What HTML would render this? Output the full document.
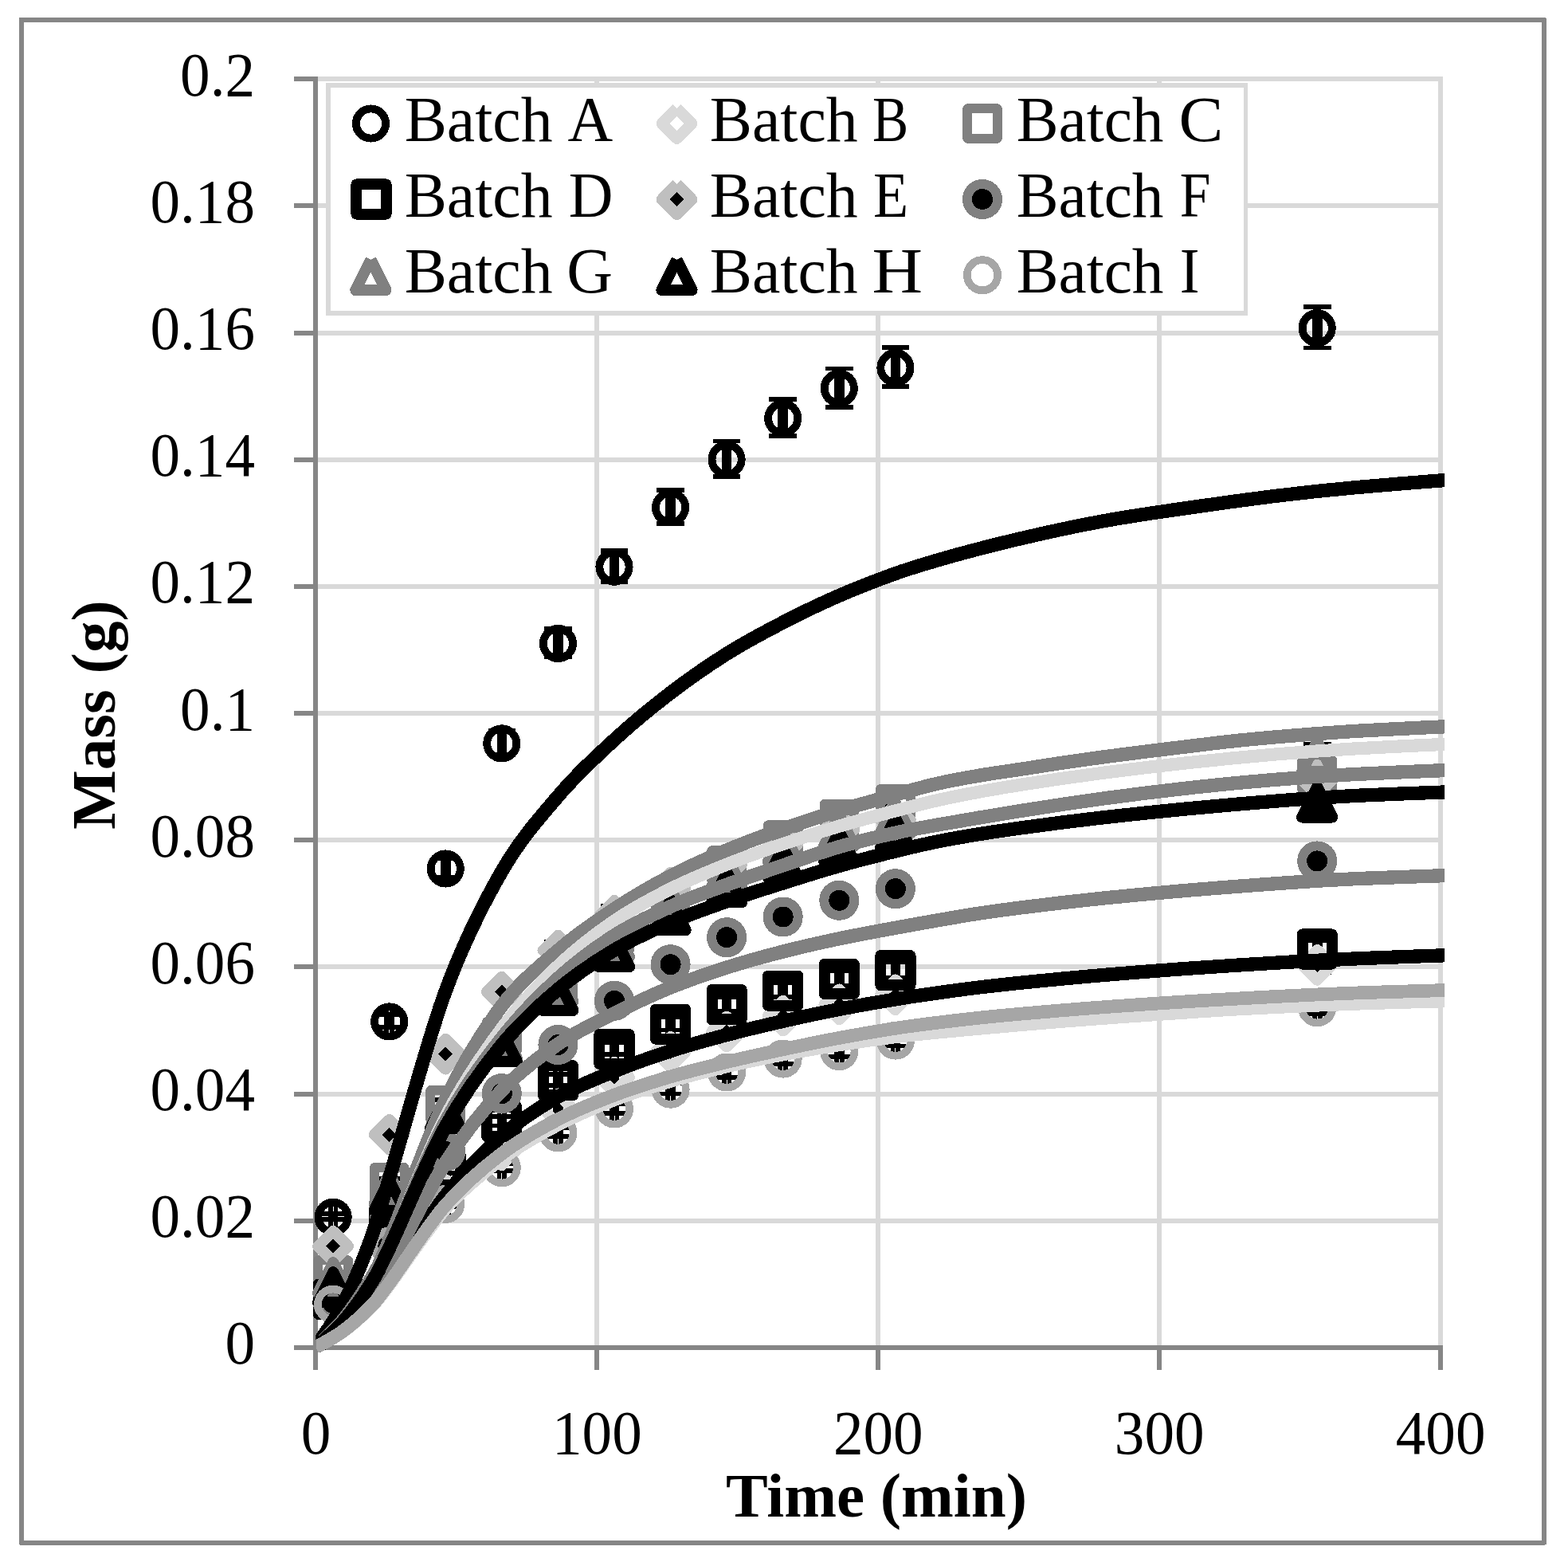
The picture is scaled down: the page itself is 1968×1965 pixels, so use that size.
<!DOCTYPE html>
<html lang="en"><head><meta charset="utf-8"><title>Mass vs Time</title>
<style>html,body{margin:0;padding:0;background:#fff;}body{width:1968px;height:1965px;overflow:hidden;}svg{display:block;}text{font-family:"Liberation Serif","DejaVu Serif",serif;fill:#000;}</style>
</head><body>
<svg width="1968" height="1965" viewBox="0 0 1968 1965" shape-rendering="crispEdges">
<rect x="0" y="0" width="1968" height="1965" fill="#fff"/>
<rect x="26.8" y="24.6" width="1911.2" height="1911.2" fill="none" stroke="#868686" stroke-width="6.0" stroke-linejoin="round"/>
<path d="M396.0 1531.6H1810.6M396.0 1372.5H1810.6M396.0 1213.3H1810.6M396.0 1054.2H1810.6M396.0 895.0H1810.6M396.0 735.8H1810.6M396.0 576.7H1810.6M396.0 417.5H1810.6M396.0 258.4H1810.6M396.0 99.2H1810.6M748.9 96.2V1690.8M1101.8 96.2V1690.8M1454.7 96.2V1690.8M1807.6 96.2V1690.8" fill="none" stroke="#d9d9d9" stroke-width="6.0"/>
<path d="M396.0 96.2V1693.8M393.0 1690.8H1810.6M369.0 1690.8H396.0M369.0 1531.6H396.0M369.0 1372.5H396.0M369.0 1213.3H396.0M369.0 1054.2H396.0M369.0 895.0H396.0M369.0 735.8H396.0M369.0 576.7H396.0M369.0 417.5H396.0M369.0 258.4H396.0M369.0 99.2H396.0M396.0 1690.8V1718.8M748.9 1690.8V1718.8M1101.8 1690.8V1718.8M1454.7 1690.8V1718.8M1807.6 1690.8V1718.8" fill="none" stroke="#868686" stroke-width="6.0"/>
<clipPath id="pc"><rect x="396.2" y="69.2" width="1416.9" height="1627.0"/></clipPath>
<g>
<path d="M418.1 1523.1V1529.7M400.8 1523.1H435.4M400.8 1529.7H435.4M414.7 1526.4H421.5M414.7 1509.1V1543.7M421.5 1509.1V1543.7" fill="none" stroke="#000" stroke-width="5.8"/>
<path d="M488.7 1272.9V1289.3M471.4 1272.9H506.0M471.4 1289.3H506.0M485.3 1281.1H492.1M485.3 1263.8V1298.4M492.1 1263.8V1298.4" fill="none" stroke="#000" stroke-width="5.8"/>
<path d="M559.2 1077.2V1101.2M541.9 1077.2H576.5M541.9 1101.2H576.5M555.8 1089.2H562.6M555.8 1071.9V1106.5M562.6 1071.9V1106.5" fill="none" stroke="#000" stroke-width="5.8"/>
<path d="M629.8 916.9V947.2M612.5 916.9H647.1M612.5 947.2H647.1M626.4 932.1H633.2M626.4 914.8V949.4M633.2 914.8V949.4" fill="none" stroke="#000" stroke-width="5.8"/>
<path d="M700.4 789.0V824.3M683.1 789.0H717.7M683.1 824.3H717.7M697.0 806.7H703.8M697.0 789.4V824.0M703.8 789.4V824.0" fill="none" stroke="#000" stroke-width="5.8"/>
<path d="M771.0 690.8V730.0M753.7 690.8H788.3M753.7 730.0H788.3M767.6 710.4H774.4M767.6 693.1V727.7M774.4 693.1V727.7" fill="none" stroke="#000" stroke-width="5.8"/>
<path d="M841.6 615.0V657.1M824.3 615.0H858.9M824.3 657.1H858.9M838.2 636.0H845.0M838.2 618.7V653.3M845.0 618.7V653.3" fill="none" stroke="#000" stroke-width="5.8"/>
<path d="M912.1 553.5V598.1M894.8 553.5H929.4M894.8 598.1H929.4M908.7 575.8H915.5M908.7 558.5V593.1M915.5 558.5V593.1" fill="none" stroke="#000" stroke-width="5.8"/>
<path d="M982.7 500.7V547.3M965.4 500.7H1000.0M965.4 547.3H1000.0M979.3 524.0H986.1M979.3 506.7V541.3M986.1 506.7V541.3" fill="none" stroke="#000" stroke-width="5.8"/>
<path d="M1053.3 462.4V510.6M1036.0 462.4H1070.6M1036.0 510.6H1070.6M1049.9 486.5H1056.7M1049.9 469.2V503.8M1056.7 469.2V503.8" fill="none" stroke="#000" stroke-width="5.8"/>
<path d="M1123.9 436.0V485.2M1106.6 436.0H1141.2M1106.6 485.2H1141.2M1120.5 460.6H1127.3M1120.5 443.3V477.9M1127.3 443.3V477.9" fill="none" stroke="#000" stroke-width="5.8"/>
<path d="M1653.2 385.2V436.4M1635.9 385.2H1670.5M1635.9 436.4H1670.5M1649.8 410.8H1656.6M1649.8 393.5V428.1M1656.6 393.5V428.1" fill="none" stroke="#000" stroke-width="5.8"/>
<path d="M418.1 1628.3V1630.7M400.8 1628.3H435.4M400.8 1630.7H435.4M414.7 1629.5H421.5M414.7 1612.2V1646.8M421.5 1612.2V1646.8" fill="none" stroke="#000" stroke-width="5.8"/>
<path d="M488.7 1559.3V1564.4M471.4 1559.3H506.0M471.4 1564.4H506.0M485.3 1561.9H492.1M485.3 1544.6V1579.2M492.1 1544.6V1579.2" fill="none" stroke="#000" stroke-width="5.8"/>
<path d="M559.2 1494.4V1502.0M541.9 1494.4H576.5M541.9 1502.0H576.5M555.8 1498.2H562.6M555.8 1480.9V1515.5M562.6 1480.9V1515.5" fill="none" stroke="#000" stroke-width="5.8"/>
<path d="M629.8 1437.6V1447.5M612.5 1437.6H647.1M612.5 1447.5H647.1M626.4 1442.5H633.2M626.4 1425.2V1459.8M633.2 1425.2V1459.8" fill="none" stroke="#000" stroke-width="5.8"/>
<path d="M700.4 1384.8V1396.8M683.1 1384.8H717.7M683.1 1396.8H717.7M697.0 1390.8H703.8M697.0 1373.5V1408.1M703.8 1373.5V1408.1" fill="none" stroke="#000" stroke-width="5.8"/>
<path d="M771.0 1344.2V1357.8M753.7 1344.2H788.3M753.7 1357.8H788.3M767.6 1351.0H774.4M767.6 1333.7V1368.3M774.4 1333.7V1368.3" fill="none" stroke="#000" stroke-width="5.8"/>
<path d="M841.6 1311.7V1326.6M824.3 1311.7H858.9M824.3 1326.6H858.9M838.2 1319.2H845.0M838.2 1301.9V1336.5M845.0 1301.9V1336.5" fill="none" stroke="#000" stroke-width="5.8"/>
<path d="M912.1 1285.8V1301.6M894.8 1285.8H929.4M894.8 1301.6H929.4M908.7 1293.7H915.5M908.7 1276.4V1311.0M915.5 1276.4V1311.0" fill="none" stroke="#000" stroke-width="5.8"/>
<path d="M982.7 1265.5V1282.1M965.4 1265.5H1000.0M965.4 1282.1H1000.0M979.3 1273.8H986.1M979.3 1256.5V1291.1M986.1 1256.5V1291.1" fill="none" stroke="#000" stroke-width="5.8"/>
<path d="M1053.3 1250.9V1268.1M1036.0 1250.9H1070.6M1036.0 1268.1H1070.6M1049.9 1259.5H1056.7M1049.9 1242.2V1276.8M1056.7 1242.2V1276.8" fill="none" stroke="#000" stroke-width="5.8"/>
<path d="M1123.9 1238.7V1256.4M1106.6 1238.7H1141.2M1106.6 1256.4H1141.2M1120.5 1247.5H1127.3M1120.5 1230.2V1264.8M1127.3 1230.2V1264.8" fill="none" stroke="#000" stroke-width="5.8"/>
<path d="M1653.2 1200.5V1219.7M1635.9 1200.5H1670.5M1635.9 1219.7H1670.5M1649.8 1210.1H1656.6M1649.8 1192.8V1227.4M1656.6 1192.8V1227.4" fill="none" stroke="#000" stroke-width="5.8"/>
<path d="M418.1 1597.5V1601.1M400.8 1597.5H435.4M400.8 1601.1H435.4M414.7 1599.3H421.5M414.7 1582.0V1616.6M421.5 1582.0V1616.6" fill="none" stroke="#000" stroke-width="5.8"/>
<path d="M488.7 1479.0V1487.2M471.4 1479.0H506.0M471.4 1487.2H506.0M485.3 1483.1H492.1M485.3 1465.8V1500.4M492.1 1465.8V1500.4" fill="none" stroke="#000" stroke-width="5.8"/>
<path d="M559.2 1379.9V1392.1M541.9 1379.9H576.5M541.9 1392.1H576.5M555.8 1386.0H562.6M555.8 1368.7V1403.3M562.6 1368.7V1403.3" fill="none" stroke="#000" stroke-width="5.8"/>
<path d="M629.8 1292.3V1307.9M612.5 1292.3H647.1M612.5 1307.9H647.1M626.4 1300.1H633.2M626.4 1282.8V1317.4M633.2 1282.8V1317.4" fill="none" stroke="#000" stroke-width="5.8"/>
<path d="M700.4 1219.2V1237.7M683.1 1219.2H717.7M683.1 1237.7H717.7M697.0 1228.4H703.8M697.0 1211.1V1245.7M703.8 1211.1V1245.7" fill="none" stroke="#000" stroke-width="5.8"/>
<path d="M771.0 1162.4V1183.1M753.7 1162.4H788.3M753.7 1183.1H788.3M767.6 1172.7H774.4M767.6 1155.4V1190.0M774.4 1155.4V1190.0" fill="none" stroke="#000" stroke-width="5.8"/>
<path d="M841.6 1113.7V1136.3M824.3 1113.7H858.9M824.3 1136.3H858.9M838.2 1125.0H845.0M838.2 1107.7V1142.3M845.0 1107.7V1142.3" fill="none" stroke="#000" stroke-width="5.8"/>
<path d="M912.1 1073.1V1097.3M894.8 1073.1H929.4M894.8 1097.3H929.4M908.7 1085.2H915.5M908.7 1067.9V1102.5M915.5 1067.9V1102.5" fill="none" stroke="#000" stroke-width="5.8"/>
<path d="M982.7 1040.6V1066.1M965.4 1040.6H1000.0M965.4 1066.1H1000.0M979.3 1053.4H986.1M979.3 1036.1V1070.7M986.1 1036.1V1070.7" fill="none" stroke="#000" stroke-width="5.8"/>
<path d="M1053.3 1013.8V1040.4M1036.0 1013.8H1070.6M1036.0 1040.4H1070.6M1049.9 1027.1H1056.7M1049.9 1009.8V1044.4M1056.7 1009.8V1044.4" fill="none" stroke="#000" stroke-width="5.8"/>
<path d="M1123.9 994.4V1021.6M1106.6 994.4H1141.2M1106.6 1021.6H1141.2M1120.5 1008.0H1127.3M1120.5 990.7V1025.3M1127.3 990.7V1025.3" fill="none" stroke="#000" stroke-width="5.8"/>
<path d="M1653.2 957.0V985.8M1635.9 957.0H1670.5M1635.9 985.8H1670.5M1649.8 971.4H1656.6M1649.8 954.1V988.7M1656.6 954.1V988.7" fill="none" stroke="#000" stroke-width="5.8"/>
<path d="M418.1 1628.3V1630.7M400.8 1628.3H435.4M400.8 1630.7H435.4M414.7 1629.5H421.5M414.7 1612.2V1646.8M421.5 1612.2V1646.8" fill="none" stroke="#000" stroke-width="5.8"/>
<path d="M488.7 1535.8V1541.8M471.4 1535.8H506.0M471.4 1541.8H506.0M485.3 1538.8H492.1M485.3 1521.5V1556.1M492.1 1521.5V1556.1" fill="none" stroke="#000" stroke-width="5.8"/>
<path d="M559.2 1462.7V1471.6M541.9 1462.7H576.5M541.9 1471.6H576.5M555.8 1467.2H562.6M555.8 1449.9V1484.5M562.6 1449.9V1484.5" fill="none" stroke="#000" stroke-width="5.8"/>
<path d="M629.8 1401.0V1412.4M612.5 1401.0H647.1M612.5 1412.4H647.1M626.4 1406.7H633.2M626.4 1389.4V1424.0M633.2 1389.4V1424.0" fill="none" stroke="#000" stroke-width="5.8"/>
<path d="M700.4 1348.3V1361.7M683.1 1348.3H717.7M683.1 1361.7H717.7M697.0 1355.0H703.8M697.0 1337.7V1372.3M703.8 1337.7V1372.3" fill="none" stroke="#000" stroke-width="5.8"/>
<path d="M771.0 1308.2V1323.2M753.7 1308.2H788.3M753.7 1323.2H788.3M767.6 1315.7H774.4M767.6 1298.4V1333.0M774.4 1298.4V1333.0" fill="none" stroke="#000" stroke-width="5.8"/>
<path d="M841.6 1276.2V1292.4M824.3 1276.2H858.9M824.3 1292.4H858.9M838.2 1284.3H845.0M838.2 1267.0V1301.6M845.0 1267.0V1301.6" fill="none" stroke="#000" stroke-width="5.8"/>
<path d="M912.1 1251.3V1268.6M894.8 1251.3H929.4M894.8 1268.6H929.4M908.7 1259.9H915.5M908.7 1242.6V1277.2M915.5 1242.6V1277.2" fill="none" stroke="#000" stroke-width="5.8"/>
<path d="M982.7 1233.3V1251.2M965.4 1233.3H1000.0M965.4 1251.2H1000.0M979.3 1242.3H986.1M979.3 1225.0V1259.6M986.1 1225.0V1259.6" fill="none" stroke="#000" stroke-width="5.8"/>
<path d="M1053.3 1218.4V1236.9M1036.0 1218.4H1070.6M1036.0 1236.9H1070.6M1049.9 1227.6H1056.7M1049.9 1210.3V1244.9M1056.7 1210.3V1244.9" fill="none" stroke="#000" stroke-width="5.8"/>
<path d="M1123.9 1207.4V1226.4M1106.6 1207.4H1141.2M1106.6 1226.4H1141.2M1120.5 1216.9H1127.3M1120.5 1199.6V1234.2M1127.3 1199.6V1234.2" fill="none" stroke="#000" stroke-width="5.8"/>
<path d="M1653.2 1180.2V1200.2M1635.9 1180.2H1670.5M1635.9 1200.2H1670.5M1649.8 1190.2H1656.6M1649.8 1172.9V1207.5M1656.6 1172.9V1207.5" fill="none" stroke="#000" stroke-width="5.8"/>
<path d="M418.1 1560.5V1565.6M400.8 1560.5H435.4M400.8 1565.6H435.4M414.7 1563.1H421.5M414.7 1545.8V1580.4M421.5 1545.8V1580.4" fill="none" stroke="#000" stroke-width="5.8"/>
<path d="M488.7 1417.8V1428.4M471.4 1417.8H506.0M471.4 1428.4H506.0M485.3 1423.1H492.1M485.3 1405.8V1440.4M492.1 1405.8V1440.4" fill="none" stroke="#000" stroke-width="5.8"/>
<path d="M559.2 1314.5V1329.2M541.9 1314.5H576.5M541.9 1329.2H576.5M555.8 1321.9H562.6M555.8 1304.6V1339.2M562.6 1304.6V1339.2" fill="none" stroke="#000" stroke-width="5.8"/>
<path d="M629.8 1234.9V1252.7M612.5 1234.9H647.1M612.5 1252.7H647.1M626.4 1243.8H633.2M626.4 1226.5V1261.1M633.2 1226.5V1261.1" fill="none" stroke="#000" stroke-width="5.8"/>
<path d="M700.4 1181.9V1201.8M683.1 1181.9H717.7M683.1 1201.8H717.7M697.0 1191.8H703.8M697.0 1174.5V1209.1M703.8 1174.5V1209.1" fill="none" stroke="#000" stroke-width="5.8"/>
<path d="M771.0 1137.2V1158.9M753.7 1137.2H788.3M753.7 1158.9H788.3M767.6 1148.1H774.4M767.6 1130.8V1165.4M774.4 1130.8V1165.4" fill="none" stroke="#000" stroke-width="5.8"/>
<path d="M841.6 1101.5V1124.6M824.3 1101.5H858.9M824.3 1124.6H858.9M838.2 1113.0H845.0M838.2 1095.7V1130.3M845.0 1095.7V1130.3" fill="none" stroke="#000" stroke-width="5.8"/>
<path d="M912.1 1071.5V1095.7M894.8 1071.5H929.4M894.8 1095.7H929.4M908.7 1083.6H915.5M908.7 1066.3V1100.9M915.5 1066.3V1100.9" fill="none" stroke="#000" stroke-width="5.8"/>
<path d="M982.7 1045.5V1070.8M965.4 1045.5H1000.0M965.4 1070.8H1000.0M979.3 1058.1H986.1M979.3 1040.8V1075.4M986.1 1040.8V1075.4" fill="none" stroke="#000" stroke-width="5.8"/>
<path d="M1053.3 1026.8V1052.8M1036.0 1026.8H1070.6M1036.0 1052.8H1070.6M1049.9 1039.8H1056.7M1049.9 1022.5V1057.1M1056.7 1022.5V1057.1" fill="none" stroke="#000" stroke-width="5.8"/>
<path d="M1123.9 1014.7V1041.1M1106.6 1014.7H1141.2M1106.6 1041.1H1141.2M1120.5 1027.9H1127.3M1120.5 1010.6V1045.2M1127.3 1010.6V1045.2" fill="none" stroke="#000" stroke-width="5.8"/>
<path d="M1653.2 963.5V992.0M1635.9 963.5H1670.5M1635.9 992.0H1670.5M1649.8 977.8H1656.6M1649.8 960.5V995.1M1656.6 960.5V995.1" fill="none" stroke="#000" stroke-width="5.8"/>
<path d="M418.1 1633.2V1635.4M400.8 1633.2H435.4M400.8 1635.4H435.4M414.7 1634.3H421.5M414.7 1617.0V1651.6M421.5 1617.0V1651.6" fill="none" stroke="#000" stroke-width="5.8"/>
<path d="M488.7 1527.7V1534.0M471.4 1527.7H506.0M471.4 1534.0H506.0M485.3 1530.8H492.1M485.3 1513.5V1548.1M492.1 1513.5V1548.1" fill="none" stroke="#000" stroke-width="5.8"/>
<path d="M559.2 1439.2V1449.0M541.9 1439.2H576.5M541.9 1449.0H576.5M555.8 1444.1H562.6M555.8 1426.8V1461.4M562.6 1426.8V1461.4" fill="none" stroke="#000" stroke-width="5.8"/>
<path d="M629.8 1364.9V1377.7M612.5 1364.9H647.1M612.5 1377.7H647.1M626.4 1371.3H633.2M626.4 1354.0V1388.6M633.2 1354.0V1388.6" fill="none" stroke="#000" stroke-width="5.8"/>
<path d="M700.4 1302.6V1317.8M683.1 1302.6H717.7M683.1 1317.8H717.7M697.0 1310.2H703.8M697.0 1292.9V1327.5M703.8 1292.9V1327.5" fill="none" stroke="#000" stroke-width="5.8"/>
<path d="M771.0 1246.3V1263.7M753.7 1246.3H788.3M753.7 1263.7H788.3M767.6 1255.0H774.4M767.6 1237.7V1272.3M774.4 1237.7V1272.3" fill="none" stroke="#000" stroke-width="5.8"/>
<path d="M841.6 1199.8V1219.0M824.3 1199.8H858.9M824.3 1219.0H858.9M838.2 1209.4H845.0M838.2 1192.1V1226.7M845.0 1192.1V1226.7" fill="none" stroke="#000" stroke-width="5.8"/>
<path d="M912.1 1165.1V1185.6M894.8 1165.1H929.4M894.8 1185.6H929.4M908.7 1175.4H915.5M908.7 1158.1V1192.7M915.5 1158.1V1192.7" fill="none" stroke="#000" stroke-width="5.8"/>
<path d="M982.7 1138.9V1160.5M965.4 1138.9H1000.0M965.4 1160.5H1000.0M979.3 1149.7H986.1M979.3 1132.4V1167.0M986.1 1132.4V1167.0" fill="none" stroke="#000" stroke-width="5.8"/>
<path d="M1053.3 1117.7V1140.2M1036.0 1117.7H1070.6M1036.0 1140.2H1070.6M1049.9 1129.0H1056.7M1049.9 1111.7V1146.3M1056.7 1111.7V1146.3" fill="none" stroke="#000" stroke-width="5.8"/>
<path d="M1123.9 1102.9V1125.9M1106.6 1102.9H1141.2M1106.6 1125.9H1141.2M1120.5 1114.4H1127.3M1120.5 1097.1V1131.7M1127.3 1097.1V1131.7" fill="none" stroke="#000" stroke-width="5.8"/>
<path d="M1653.2 1067.4V1091.8M1635.9 1067.4H1670.5M1635.9 1091.8H1670.5M1649.8 1079.6H1656.6M1649.8 1062.3V1096.9M1656.6 1062.3V1096.9" fill="none" stroke="#000" stroke-width="5.8"/>
<path d="M418.1 1600.7V1604.2M400.8 1600.7H435.4M400.8 1604.2H435.4M414.7 1602.5H421.5M414.7 1585.2V1619.8M421.5 1585.2V1619.8" fill="none" stroke="#000" stroke-width="5.8"/>
<path d="M488.7 1487.1V1495.0M471.4 1487.1H506.0M471.4 1495.0H506.0M485.3 1491.0H492.1M485.3 1473.8V1508.3M492.1 1473.8V1508.3" fill="none" stroke="#000" stroke-width="5.8"/>
<path d="M559.2 1389.7V1401.4M541.9 1389.7H576.5M541.9 1401.4H576.5M555.8 1395.6H562.6M555.8 1378.3V1412.9M562.6 1378.3V1412.9" fill="none" stroke="#000" stroke-width="5.8"/>
<path d="M629.8 1300.4V1315.7M612.5 1300.4H647.1M612.5 1315.7H647.1M626.4 1308.0H633.2M626.4 1290.7V1325.3M633.2 1290.7V1325.3" fill="none" stroke="#000" stroke-width="5.8"/>
<path d="M700.4 1227.3V1245.5M683.1 1227.3H717.7M683.1 1245.5H717.7M697.0 1236.4H703.8M697.0 1219.1V1253.7M703.8 1219.1V1253.7" fill="none" stroke="#000" stroke-width="5.8"/>
<path d="M771.0 1170.5V1190.9M753.7 1170.5H788.3M753.7 1190.9H788.3M767.6 1180.7H774.4M767.6 1163.4V1198.0M774.4 1163.4V1198.0" fill="none" stroke="#000" stroke-width="5.8"/>
<path d="M841.6 1121.8V1144.1M824.3 1121.8H858.9M824.3 1144.1H858.9M838.2 1132.9H845.0M838.2 1115.6V1150.2M845.0 1115.6V1150.2" fill="none" stroke="#000" stroke-width="5.8"/>
<path d="M912.1 1081.2V1105.1M894.8 1081.2H929.4M894.8 1105.1H929.4M908.7 1093.2H915.5M908.7 1075.9V1110.5M915.5 1075.9V1110.5" fill="none" stroke="#000" stroke-width="5.8"/>
<path d="M982.7 1048.7V1073.9M965.4 1048.7H1000.0M965.4 1073.9H1000.0M979.3 1061.3H986.1M979.3 1044.0V1078.6M986.1 1044.0V1078.6" fill="none" stroke="#000" stroke-width="5.8"/>
<path d="M1053.3 1028.5V1054.4M1036.0 1028.5H1070.6M1036.0 1054.4H1070.6M1049.9 1041.4H1056.7M1049.9 1024.1V1058.7M1056.7 1024.1V1058.7" fill="none" stroke="#000" stroke-width="5.8"/>
<path d="M1123.9 1012.2V1038.8M1106.6 1012.2H1141.2M1106.6 1038.8H1141.2M1120.5 1025.5H1127.3M1120.5 1008.2V1042.8M1127.3 1008.2V1042.8" fill="none" stroke="#000" stroke-width="5.8"/>
<path d="M1653.2 933.5V963.1M1635.9 933.5H1670.5M1635.9 963.1H1670.5M1649.8 948.3H1656.6M1649.8 931.0V965.6M1656.6 931.0V965.6" fill="none" stroke="#000" stroke-width="5.8"/>
<path d="M418.1 1612.9V1615.9M400.8 1612.9H435.4M400.8 1615.9H435.4M414.7 1614.4H421.5M414.7 1597.1V1631.7M421.5 1597.1V1631.7" fill="none" stroke="#000" stroke-width="5.8"/>
<path d="M488.7 1495.2V1502.8M471.4 1495.2H506.0M471.4 1502.8H506.0M485.3 1499.0H492.1M485.3 1481.7V1516.3M492.1 1481.7V1516.3" fill="none" stroke="#000" stroke-width="5.8"/>
<path d="M559.2 1389.7V1401.4M541.9 1389.7H576.5M541.9 1401.4H576.5M555.8 1395.6H562.6M555.8 1378.3V1412.9M562.6 1378.3V1412.9" fill="none" stroke="#000" stroke-width="5.8"/>
<path d="M629.8 1304.4V1319.6M612.5 1304.4H647.1M612.5 1319.6H647.1M626.4 1312.0H633.2M626.4 1294.7V1329.3M633.2 1294.7V1329.3" fill="none" stroke="#000" stroke-width="5.8"/>
<path d="M700.4 1239.2V1256.9M683.1 1239.2H717.7M683.1 1256.9H717.7M697.0 1248.0H703.8M697.0 1230.7V1265.3M703.8 1230.7V1265.3" fill="none" stroke="#000" stroke-width="5.8"/>
<path d="M771.0 1183.3V1203.2M753.7 1183.3H788.3M753.7 1203.2H788.3M767.6 1193.3H774.4M767.6 1176.0V1210.6M774.4 1176.0V1210.6" fill="none" stroke="#000" stroke-width="5.8"/>
<path d="M841.6 1136.4V1158.1M824.3 1136.4H858.9M824.3 1158.1H858.9M838.2 1147.3H845.0M838.2 1130.0V1164.6M845.0 1130.0V1164.6" fill="none" stroke="#000" stroke-width="5.8"/>
<path d="M912.1 1100.9V1124.0M894.8 1100.9H929.4M894.8 1124.0H929.4M908.7 1112.4H915.5M908.7 1095.1V1129.7M915.5 1095.1V1129.7" fill="none" stroke="#000" stroke-width="5.8"/>
<path d="M982.7 1069.0V1093.4M965.4 1069.0H1000.0M965.4 1093.4H1000.0M979.3 1081.2H986.1M979.3 1063.9V1098.5M986.1 1063.9V1098.5" fill="none" stroke="#000" stroke-width="5.8"/>
<path d="M1053.3 1048.7V1073.9M1036.0 1048.7H1070.6M1036.0 1073.9H1070.6M1049.9 1061.3H1056.7M1049.9 1044.0V1078.6M1056.7 1044.0V1078.6" fill="none" stroke="#000" stroke-width="5.8"/>
<path d="M1123.9 1031.7V1057.5M1106.6 1031.7H1141.2M1106.6 1057.5H1141.2M1120.5 1044.6H1127.3M1120.5 1027.3V1061.9M1127.3 1027.3V1061.9" fill="none" stroke="#000" stroke-width="5.8"/>
<path d="M1653.2 991.9V1019.3M1635.9 991.9H1670.5M1635.9 1019.3H1670.5M1649.8 1005.6H1656.6M1649.8 988.3V1022.9M1656.6 988.3V1022.9" fill="none" stroke="#000" stroke-width="5.8"/>
<path d="M418.1 1634.8V1637.0M400.8 1634.8H435.4M400.8 1637.0H435.4M414.7 1635.9H421.5M414.7 1618.6V1653.2M421.5 1618.6V1653.2" fill="none" stroke="#000" stroke-width="5.8"/>
<path d="M488.7 1560.1V1565.2M471.4 1560.1H506.0M471.4 1565.2H506.0M485.3 1562.7H492.1M485.3 1545.4V1580.0M492.1 1545.4V1580.0" fill="none" stroke="#000" stroke-width="5.8"/>
<path d="M559.2 1506.6V1513.7M541.9 1506.6H576.5M541.9 1513.7H576.5M555.8 1510.1H562.6M555.8 1492.8V1527.4M562.6 1492.8V1527.4" fill="none" stroke="#000" stroke-width="5.8"/>
<path d="M629.8 1460.0V1469.1M612.5 1460.0H647.1M612.5 1469.1H647.1M626.4 1464.5H633.2M626.4 1447.2V1481.8M633.2 1447.2V1481.8" fill="none" stroke="#000" stroke-width="5.8"/>
<path d="M700.4 1415.2V1426.0M683.1 1415.2H717.7M683.1 1426.0H717.7M697.0 1420.6H703.8M697.0 1403.3V1437.9M703.8 1403.3V1437.9" fill="none" stroke="#000" stroke-width="5.8"/>
<path d="M771.0 1384.7V1396.7M753.7 1384.7H788.3M753.7 1396.7H788.3M767.6 1390.7H774.4M767.6 1373.4V1408.0M774.4 1373.4V1408.0" fill="none" stroke="#000" stroke-width="5.8"/>
<path d="M841.6 1359.4V1372.4M824.3 1359.4H858.9M824.3 1372.4H858.9M838.2 1365.9H845.0M838.2 1348.6V1383.2M845.0 1348.6V1383.2" fill="none" stroke="#000" stroke-width="5.8"/>
<path d="M912.1 1337.8V1351.6M894.8 1337.8H929.4M894.8 1351.6H929.4M908.7 1344.7H915.5M908.7 1327.4V1362.0M915.5 1327.4V1362.0" fill="none" stroke="#000" stroke-width="5.8"/>
<path d="M982.7 1320.6V1335.1M965.4 1320.6H1000.0M965.4 1335.1H1000.0M979.3 1327.8H986.1M979.3 1310.5V1345.1M986.1 1310.5V1345.1" fill="none" stroke="#000" stroke-width="5.8"/>
<path d="M1053.3 1310.9V1325.8M1036.0 1310.9H1070.6M1036.0 1325.8H1070.6M1049.9 1318.4H1056.7M1049.9 1301.1V1335.7M1056.7 1301.1V1335.7" fill="none" stroke="#000" stroke-width="5.8"/>
<path d="M1123.9 1297.1V1312.5M1106.6 1297.1H1141.2M1106.6 1312.5H1141.2M1120.5 1304.8H1127.3M1120.5 1287.5V1322.1M1127.3 1287.5V1322.1" fill="none" stroke="#000" stroke-width="5.8"/>
<path d="M1653.2 1254.9V1272.0M1635.9 1254.9H1670.5M1635.9 1272.0H1670.5M1649.8 1263.5H1656.6M1649.8 1246.2V1280.8M1656.6 1246.2V1280.8" fill="none" stroke="#000" stroke-width="5.8"/>
<g>
<circle cx="418.1" cy="1527.2" r="18.60" fill="none" stroke="#000000" stroke-width="9.9"/>
<circle cx="488.7" cy="1281.9" r="18.60" fill="none" stroke="#000000" stroke-width="9.9"/>
<circle cx="559.2" cy="1090.0" r="18.60" fill="none" stroke="#000000" stroke-width="9.9"/>
<circle cx="629.8" cy="932.9" r="18.60" fill="none" stroke="#000000" stroke-width="9.9"/>
<circle cx="700.4" cy="807.5" r="18.60" fill="none" stroke="#000000" stroke-width="9.9"/>
<circle cx="771.0" cy="711.2" r="18.60" fill="none" stroke="#000000" stroke-width="9.9"/>
<circle cx="841.6" cy="636.8" r="18.60" fill="none" stroke="#000000" stroke-width="9.9"/>
<circle cx="912.1" cy="576.6" r="18.60" fill="none" stroke="#000000" stroke-width="9.9"/>
<circle cx="982.7" cy="524.8" r="18.60" fill="none" stroke="#000000" stroke-width="9.9"/>
<circle cx="1053.3" cy="487.3" r="18.60" fill="none" stroke="#000000" stroke-width="9.9"/>
<circle cx="1123.9" cy="461.4" r="18.60" fill="none" stroke="#000000" stroke-width="9.9"/>
<circle cx="1653.2" cy="411.6" r="18.60" fill="none" stroke="#000000" stroke-width="9.9"/>
</g>
<g>
<path d="M418.1 1611.4L437.0 1630.3L418.1 1649.2L399.2 1630.3L418.1 1611.4Z" fill="none" stroke="#d9d9d9" stroke-width="14.0" stroke-linejoin="round"/>
<path d="M488.7 1543.8L507.6 1562.7L488.7 1581.6L469.8 1562.7L488.7 1543.8Z" fill="none" stroke="#d9d9d9" stroke-width="14.0" stroke-linejoin="round"/>
<path d="M559.2 1480.1L578.1 1499.0L559.2 1517.9L540.3 1499.0L559.2 1480.1Z" fill="none" stroke="#d9d9d9" stroke-width="14.0" stroke-linejoin="round"/>
<path d="M629.8 1424.4L648.7 1443.3L629.8 1462.2L610.9 1443.3L629.8 1424.4Z" fill="none" stroke="#d9d9d9" stroke-width="14.0" stroke-linejoin="round"/>
<path d="M700.4 1372.7L719.3 1391.6L700.4 1410.5L681.5 1391.6L700.4 1372.7Z" fill="none" stroke="#d9d9d9" stroke-width="14.0" stroke-linejoin="round"/>
<path d="M771.0 1332.9L789.9 1351.8L771.0 1370.7L752.1 1351.8L771.0 1332.9Z" fill="none" stroke="#d9d9d9" stroke-width="14.0" stroke-linejoin="round"/>
<path d="M841.6 1301.1L860.5 1320.0L841.6 1338.9L822.7 1320.0L841.6 1301.1Z" fill="none" stroke="#d9d9d9" stroke-width="14.0" stroke-linejoin="round"/>
<path d="M912.1 1275.6L931.0 1294.5L912.1 1313.4L893.2 1294.5L912.1 1275.6Z" fill="none" stroke="#d9d9d9" stroke-width="14.0" stroke-linejoin="round"/>
<path d="M982.7 1255.7L1001.6 1274.6L982.7 1293.5L963.8 1274.6L982.7 1255.7Z" fill="none" stroke="#d9d9d9" stroke-width="14.0" stroke-linejoin="round"/>
<path d="M1053.3 1241.4L1072.2 1260.3L1053.3 1279.2L1034.4 1260.3L1053.3 1241.4Z" fill="none" stroke="#d9d9d9" stroke-width="14.0" stroke-linejoin="round"/>
<path d="M1123.9 1229.4L1142.8 1248.3L1123.9 1267.2L1105.0 1248.3L1123.9 1229.4Z" fill="none" stroke="#d9d9d9" stroke-width="14.0" stroke-linejoin="round"/>
<path d="M1653.2 1192.0L1672.1 1210.9L1653.2 1229.8L1634.3 1210.9L1653.2 1192.0Z" fill="none" stroke="#d9d9d9" stroke-width="14.0" stroke-linejoin="round"/>
</g>
<g>
<rect x="399.3" y="1581.3" width="37.6" height="37.6" fill="none" stroke="#808080" stroke-width="12.0" stroke-linejoin="round"/>
<rect x="469.9" y="1465.1" width="37.6" height="37.6" fill="none" stroke="#808080" stroke-width="12.0" stroke-linejoin="round"/>
<rect x="540.4" y="1368.0" width="37.6" height="37.6" fill="none" stroke="#808080" stroke-width="12.0" stroke-linejoin="round"/>
<rect x="611.0" y="1282.1" width="37.6" height="37.6" fill="none" stroke="#808080" stroke-width="12.0" stroke-linejoin="round"/>
<rect x="681.6" y="1210.4" width="37.6" height="37.6" fill="none" stroke="#808080" stroke-width="12.0" stroke-linejoin="round"/>
<rect x="752.2" y="1154.7" width="37.6" height="37.6" fill="none" stroke="#808080" stroke-width="12.0" stroke-linejoin="round"/>
<rect x="822.8" y="1107.0" width="37.6" height="37.6" fill="none" stroke="#808080" stroke-width="12.0" stroke-linejoin="round"/>
<rect x="893.3" y="1067.2" width="37.6" height="37.6" fill="none" stroke="#808080" stroke-width="12.0" stroke-linejoin="round"/>
<rect x="963.9" y="1035.4" width="37.6" height="37.6" fill="none" stroke="#808080" stroke-width="12.0" stroke-linejoin="round"/>
<rect x="1034.5" y="1009.1" width="37.6" height="37.6" fill="none" stroke="#808080" stroke-width="12.0" stroke-linejoin="round"/>
<rect x="1105.1" y="990.0" width="37.6" height="37.6" fill="none" stroke="#808080" stroke-width="12.0" stroke-linejoin="round"/>
<rect x="1634.4" y="953.4" width="37.6" height="37.6" fill="none" stroke="#808080" stroke-width="12.0" stroke-linejoin="round"/>
</g>
<g>
<rect x="399.5" y="1611.7" width="37.2" height="37.2" fill="none" stroke="#000000" stroke-width="14.0" stroke-linejoin="round"/>
<rect x="470.1" y="1521.0" width="37.2" height="37.2" fill="none" stroke="#000000" stroke-width="14.0" stroke-linejoin="round"/>
<rect x="540.6" y="1449.4" width="37.2" height="37.2" fill="none" stroke="#000000" stroke-width="14.0" stroke-linejoin="round"/>
<rect x="611.2" y="1388.9" width="37.2" height="37.2" fill="none" stroke="#000000" stroke-width="14.0" stroke-linejoin="round"/>
<rect x="681.8" y="1337.2" width="37.2" height="37.2" fill="none" stroke="#000000" stroke-width="14.0" stroke-linejoin="round"/>
<rect x="752.4" y="1297.9" width="37.2" height="37.2" fill="none" stroke="#000000" stroke-width="14.0" stroke-linejoin="round"/>
<rect x="823.0" y="1266.5" width="37.2" height="37.2" fill="none" stroke="#000000" stroke-width="14.0" stroke-linejoin="round"/>
<rect x="893.5" y="1242.1" width="37.2" height="37.2" fill="none" stroke="#000000" stroke-width="14.0" stroke-linejoin="round"/>
<rect x="964.1" y="1224.5" width="37.2" height="37.2" fill="none" stroke="#000000" stroke-width="14.0" stroke-linejoin="round"/>
<rect x="1034.7" y="1209.8" width="37.2" height="37.2" fill="none" stroke="#000000" stroke-width="14.0" stroke-linejoin="round"/>
<rect x="1105.3" y="1199.1" width="37.2" height="37.2" fill="none" stroke="#000000" stroke-width="14.0" stroke-linejoin="round"/>
<rect x="1634.6" y="1172.4" width="37.2" height="37.2" fill="none" stroke="#000000" stroke-width="14.0" stroke-linejoin="round"/>
</g>
<g>
<path d="M418.1 1545.0L437.0 1563.9L418.1 1582.8L399.2 1563.9L418.1 1545.0Z" fill="#000000" stroke="#bfbfbf" stroke-width="14.0" stroke-linejoin="round"/>
<path d="M488.7 1405.0L507.6 1423.9L488.7 1442.8L469.8 1423.9L488.7 1405.0Z" fill="#000000" stroke="#bfbfbf" stroke-width="14.0" stroke-linejoin="round"/>
<path d="M559.2 1303.8L578.1 1322.7L559.2 1341.6L540.3 1322.7L559.2 1303.8Z" fill="#000000" stroke="#bfbfbf" stroke-width="14.0" stroke-linejoin="round"/>
<path d="M629.8 1225.7L648.7 1244.6L629.8 1263.5L610.9 1244.6L629.8 1225.7Z" fill="#000000" stroke="#bfbfbf" stroke-width="14.0" stroke-linejoin="round"/>
<path d="M700.4 1173.7L719.3 1192.6L700.4 1211.5L681.5 1192.6L700.4 1173.7Z" fill="#000000" stroke="#bfbfbf" stroke-width="14.0" stroke-linejoin="round"/>
<path d="M771.0 1130.0L789.9 1148.9L771.0 1167.8L752.1 1148.9L771.0 1130.0Z" fill="#000000" stroke="#bfbfbf" stroke-width="14.0" stroke-linejoin="round"/>
<path d="M841.6 1094.9L860.5 1113.8L841.6 1132.7L822.7 1113.8L841.6 1094.9Z" fill="#000000" stroke="#bfbfbf" stroke-width="14.0" stroke-linejoin="round"/>
<path d="M912.1 1065.5L931.0 1084.4L912.1 1103.3L893.2 1084.4L912.1 1065.5Z" fill="#000000" stroke="#bfbfbf" stroke-width="14.0" stroke-linejoin="round"/>
<path d="M982.7 1040.0L1001.6 1058.9L982.7 1077.8L963.8 1058.9L982.7 1040.0Z" fill="#000000" stroke="#bfbfbf" stroke-width="14.0" stroke-linejoin="round"/>
<path d="M1053.3 1021.7L1072.2 1040.6L1053.3 1059.5L1034.4 1040.6L1053.3 1021.7Z" fill="#000000" stroke="#bfbfbf" stroke-width="14.0" stroke-linejoin="round"/>
<path d="M1123.9 1009.8L1142.8 1028.7L1123.9 1047.6L1105.0 1028.7L1123.9 1009.8Z" fill="#000000" stroke="#bfbfbf" stroke-width="14.0" stroke-linejoin="round"/>
<path d="M1653.2 959.7L1672.1 978.6L1653.2 997.5L1634.3 978.6L1653.2 959.7Z" fill="#000000" stroke="#bfbfbf" stroke-width="14.0" stroke-linejoin="round"/>
</g>
<g>
<circle cx="418.1" cy="1635.1" r="19.00" fill="#000000" stroke="#808080" stroke-width="12.0"/>
<circle cx="488.7" cy="1531.6" r="19.00" fill="#000000" stroke="#808080" stroke-width="12.0"/>
<circle cx="559.2" cy="1444.9" r="19.00" fill="#000000" stroke="#808080" stroke-width="12.0"/>
<circle cx="629.8" cy="1372.1" r="19.00" fill="#000000" stroke="#808080" stroke-width="12.0"/>
<circle cx="700.4" cy="1311.0" r="19.00" fill="#000000" stroke="#808080" stroke-width="12.0"/>
<circle cx="771.0" cy="1255.8" r="19.00" fill="#000000" stroke="#808080" stroke-width="12.0"/>
<circle cx="841.6" cy="1210.2" r="19.00" fill="#000000" stroke="#808080" stroke-width="12.0"/>
<circle cx="912.1" cy="1176.2" r="19.00" fill="#000000" stroke="#808080" stroke-width="12.0"/>
<circle cx="982.7" cy="1150.5" r="19.00" fill="#000000" stroke="#808080" stroke-width="12.0"/>
<circle cx="1053.3" cy="1129.8" r="19.00" fill="#000000" stroke="#808080" stroke-width="12.0"/>
<circle cx="1123.9" cy="1115.2" r="19.00" fill="#000000" stroke="#808080" stroke-width="12.0"/>
<circle cx="1653.2" cy="1080.4" r="19.00" fill="#000000" stroke="#808080" stroke-width="12.0"/>
</g>
<g>
<path d="M418.1 1584.2L437.2 1622.4L399.0 1622.4L418.1 1584.2Z" fill="none" stroke="#808080" stroke-width="14.0" stroke-linejoin="round"/>
<path d="M488.7 1472.8L507.8 1510.9L469.6 1510.9L488.7 1472.8Z" fill="none" stroke="#808080" stroke-width="14.0" stroke-linejoin="round"/>
<path d="M559.2 1377.3L578.3 1415.5L540.1 1415.5L559.2 1377.3Z" fill="none" stroke="#808080" stroke-width="14.0" stroke-linejoin="round"/>
<path d="M629.8 1289.7L648.9 1327.9L610.7 1327.9L629.8 1289.7Z" fill="none" stroke="#808080" stroke-width="14.0" stroke-linejoin="round"/>
<path d="M700.4 1218.1L719.5 1256.3L681.3 1256.3L700.4 1218.1Z" fill="none" stroke="#808080" stroke-width="14.0" stroke-linejoin="round"/>
<path d="M771.0 1162.4L790.1 1200.6L751.9 1200.6L771.0 1162.4Z" fill="none" stroke="#808080" stroke-width="14.0" stroke-linejoin="round"/>
<path d="M841.6 1114.6L860.7 1152.8L822.5 1152.8L841.6 1114.6Z" fill="none" stroke="#808080" stroke-width="14.0" stroke-linejoin="round"/>
<path d="M912.1 1074.9L931.2 1113.0L893.0 1113.0L912.1 1074.9Z" fill="none" stroke="#808080" stroke-width="14.0" stroke-linejoin="round"/>
<path d="M982.7 1043.0L1001.8 1081.2L963.6 1081.2L982.7 1043.0Z" fill="none" stroke="#808080" stroke-width="14.0" stroke-linejoin="round"/>
<path d="M1053.3 1023.1L1072.4 1061.3L1034.2 1061.3L1053.3 1023.1Z" fill="none" stroke="#808080" stroke-width="14.0" stroke-linejoin="round"/>
<path d="M1123.9 1007.2L1143.0 1045.4L1104.8 1045.4L1123.9 1007.2Z" fill="none" stroke="#808080" stroke-width="14.0" stroke-linejoin="round"/>
<path d="M1653.2 930.0L1672.3 968.2L1634.1 968.2L1653.2 930.0Z" fill="none" stroke="#808080" stroke-width="14.0" stroke-linejoin="round"/>
</g>
<g>
<path d="M418.1 1596.1L437.2 1634.3L399.0 1634.3L418.1 1596.1Z" fill="none" stroke="#000000" stroke-width="14.0" stroke-linejoin="round"/>
<path d="M488.7 1480.7L507.8 1518.9L469.6 1518.9L488.7 1480.7Z" fill="none" stroke="#000000" stroke-width="14.0" stroke-linejoin="round"/>
<path d="M559.2 1377.3L578.3 1415.5L540.1 1415.5L559.2 1377.3Z" fill="none" stroke="#000000" stroke-width="14.0" stroke-linejoin="round"/>
<path d="M629.8 1293.7L648.9 1331.9L610.7 1331.9L629.8 1293.7Z" fill="none" stroke="#000000" stroke-width="14.0" stroke-linejoin="round"/>
<path d="M700.4 1229.7L719.5 1267.9L681.3 1267.9L700.4 1229.7Z" fill="none" stroke="#000000" stroke-width="14.0" stroke-linejoin="round"/>
<path d="M771.0 1175.0L790.1 1213.2L751.9 1213.2L771.0 1175.0Z" fill="none" stroke="#000000" stroke-width="14.0" stroke-linejoin="round"/>
<path d="M841.6 1129.0L860.7 1167.2L822.5 1167.2L841.6 1129.0Z" fill="none" stroke="#000000" stroke-width="14.0" stroke-linejoin="round"/>
<path d="M912.1 1094.1L931.2 1132.3L893.0 1132.3L912.1 1094.1Z" fill="none" stroke="#000000" stroke-width="14.0" stroke-linejoin="round"/>
<path d="M982.7 1062.9L1001.8 1101.1L963.6 1101.1L982.7 1062.9Z" fill="none" stroke="#000000" stroke-width="14.0" stroke-linejoin="round"/>
<path d="M1053.3 1043.0L1072.4 1081.2L1034.2 1081.2L1053.3 1043.0Z" fill="none" stroke="#000000" stroke-width="14.0" stroke-linejoin="round"/>
<path d="M1123.9 1026.3L1143.0 1064.5L1104.8 1064.5L1123.9 1026.3Z" fill="none" stroke="#000000" stroke-width="14.0" stroke-linejoin="round"/>
<path d="M1653.2 987.3L1672.3 1025.5L1634.1 1025.5L1653.2 987.3Z" fill="none" stroke="#000000" stroke-width="14.0" stroke-linejoin="round"/>
</g>
<g>
<circle cx="418.1" cy="1636.7" r="19.15" fill="none" stroke="#a6a6a6" stroke-width="9.7"/>
<circle cx="488.7" cy="1563.5" r="19.15" fill="none" stroke="#a6a6a6" stroke-width="9.7"/>
<circle cx="559.2" cy="1510.9" r="19.15" fill="none" stroke="#a6a6a6" stroke-width="9.7"/>
<circle cx="629.8" cy="1465.3" r="19.15" fill="none" stroke="#a6a6a6" stroke-width="9.7"/>
<circle cx="700.4" cy="1421.4" r="19.15" fill="none" stroke="#a6a6a6" stroke-width="9.7"/>
<circle cx="771.0" cy="1391.5" r="19.15" fill="none" stroke="#a6a6a6" stroke-width="9.7"/>
<circle cx="841.6" cy="1366.7" r="19.15" fill="none" stroke="#a6a6a6" stroke-width="9.7"/>
<circle cx="912.1" cy="1345.5" r="19.15" fill="none" stroke="#a6a6a6" stroke-width="9.7"/>
<circle cx="982.7" cy="1328.6" r="19.15" fill="none" stroke="#a6a6a6" stroke-width="9.7"/>
<circle cx="1053.3" cy="1319.2" r="19.15" fill="none" stroke="#a6a6a6" stroke-width="9.7"/>
<circle cx="1123.9" cy="1305.6" r="19.15" fill="none" stroke="#a6a6a6" stroke-width="9.7"/>
<circle cx="1653.2" cy="1264.3" r="19.15" fill="none" stroke="#a6a6a6" stroke-width="9.7"/>
</g>
</g>
<g clip-path="url(#pc)">
<path d="M396.00 1690.80C401.59 1682.08 418.35 1660.10 429.53 1638.48C440.70 1616.85 453.35 1587.20 463.05 1561.04C472.76 1534.87 471.87 1533.99 487.75 1481.50C503.63 1429.02 534.81 1310.58 558.33 1246.14C581.86 1181.70 605.39 1135.86 628.91 1094.86C652.44 1053.86 675.97 1027.75 699.49 1000.13C723.02 972.51 746.55 950.81 770.07 929.15C793.60 907.49 817.13 888.21 840.65 870.17C864.18 852.14 887.71 835.73 911.23 820.96C934.76 806.18 958.29 793.73 981.81 781.53C1005.34 769.33 1028.87 758.01 1052.39 747.75C1075.92 737.49 1102.39 727.38 1122.97 719.95C1143.56 712.53 1158.26 708.42 1175.91 703.20C1193.55 697.98 1211.20 693.23 1228.84 688.63C1246.49 684.02 1264.13 679.72 1281.78 675.57C1299.42 671.42 1317.07 667.46 1334.71 663.75C1352.36 660.04 1370.00 656.50 1387.65 653.31C1405.29 650.12 1422.94 647.36 1440.58 644.63C1458.23 641.90 1475.87 639.47 1493.52 636.94C1511.16 634.42 1528.81 631.87 1546.45 629.46C1564.10 627.06 1581.74 624.69 1599.39 622.52C1617.03 620.36 1634.68 618.33 1652.32 616.47C1669.97 614.61 1687.61 612.96 1705.26 611.36C1722.90 609.76 1740.55 608.30 1758.19 606.86C1775.84 605.43 1793.48 604.05 1811.13 602.76C1828.77 601.47 1855.24 599.73 1864.06 599.12" fill="none" stroke="#000000" stroke-width="17.3" stroke-linejoin="round"/>
<path d="M396.00 1690.80C401.59 1687.58 418.35 1679.48 429.53 1671.50C440.70 1663.53 453.35 1652.59 463.05 1642.94C472.76 1633.29 471.87 1634.51 487.75 1613.61C503.63 1592.71 534.81 1544.02 558.33 1517.53C581.86 1491.05 605.39 1472.32 628.91 1454.70C652.44 1437.08 675.97 1424.20 699.49 1411.83C723.02 1399.45 746.55 1389.57 770.07 1380.44C793.60 1371.31 817.13 1364.06 840.65 1357.04C864.18 1350.02 887.71 1343.95 911.23 1338.34C934.76 1332.74 958.29 1327.94 981.81 1323.42C1005.34 1318.91 1028.87 1314.94 1052.39 1311.25C1075.92 1307.55 1102.39 1303.85 1122.97 1301.23C1143.56 1298.62 1158.26 1297.30 1175.91 1295.55C1193.55 1293.79 1211.20 1292.28 1228.84 1290.68C1246.49 1289.09 1264.13 1287.50 1281.78 1285.99C1299.42 1284.47 1317.07 1283.00 1334.71 1281.59C1352.36 1280.18 1370.00 1278.83 1387.65 1277.52C1405.29 1276.22 1422.94 1274.99 1440.58 1273.76C1458.23 1272.53 1475.87 1271.31 1493.52 1270.13C1511.16 1268.94 1528.81 1267.70 1546.45 1266.67C1564.10 1265.65 1581.74 1264.84 1599.39 1263.98C1617.03 1263.12 1634.68 1262.29 1652.32 1261.54C1669.97 1260.78 1687.61 1260.09 1705.26 1259.47C1722.90 1258.84 1740.55 1258.32 1758.19 1257.79C1775.84 1257.26 1793.48 1256.76 1811.13 1256.26C1828.77 1255.77 1855.24 1255.07 1864.06 1254.83" fill="none" stroke="#d9d9d9" stroke-width="16.2" stroke-linejoin="round"/>
<path d="M396.00 1690.80C401.59 1685.29 418.35 1671.42 429.53 1657.77C440.70 1644.11 453.35 1625.39 463.05 1608.88C472.76 1592.36 471.87 1596.56 487.75 1558.67C503.63 1520.77 534.81 1430.72 558.33 1381.48C581.86 1332.24 605.39 1294.61 628.91 1263.25C652.44 1231.89 675.97 1213.66 699.49 1193.34C723.02 1173.02 746.55 1156.92 770.07 1141.33C793.60 1125.74 817.13 1112.17 840.65 1099.82C864.18 1087.47 887.71 1077.12 911.23 1067.23C934.76 1057.35 958.29 1048.83 981.81 1040.53C1005.34 1032.23 1028.87 1024.62 1052.39 1017.44C1075.92 1010.25 1102.39 1003.10 1122.97 997.43C1143.56 991.75 1158.26 987.41 1175.91 983.37C1193.55 979.33 1211.20 976.22 1228.84 973.19C1246.49 970.15 1264.13 967.87 1281.78 965.16C1299.42 962.45 1317.07 959.54 1334.71 956.93C1352.36 954.32 1370.00 951.86 1387.65 949.50C1405.29 947.14 1422.94 944.96 1440.58 942.76C1458.23 940.56 1475.87 938.43 1493.52 936.31C1511.16 934.19 1528.81 931.93 1546.45 930.04C1564.10 928.15 1581.74 926.53 1599.39 924.97C1617.03 923.41 1634.68 921.97 1652.32 920.67C1669.97 919.37 1687.61 918.20 1705.26 917.15C1722.90 916.10 1740.55 915.26 1758.19 914.38C1775.84 913.50 1793.48 912.69 1811.13 911.87C1828.77 911.05 1855.24 909.86 1864.06 909.45" fill="none" stroke="#808080" stroke-width="17.3" stroke-linejoin="round"/>
<path d="M396.00 1690.80C401.59 1687.37 418.35 1678.73 429.53 1670.23C440.70 1661.72 453.35 1650.07 463.05 1639.78C472.76 1629.49 471.87 1631.59 487.75 1608.51C503.63 1585.43 534.81 1531.74 558.33 1501.30C581.86 1470.86 605.39 1446.64 628.91 1425.87C652.44 1405.10 675.97 1390.20 699.49 1376.66C723.02 1363.12 746.55 1354.24 770.07 1344.64C793.60 1335.03 817.13 1326.70 840.65 1319.06C864.18 1311.42 887.71 1305.02 911.23 1298.77C934.76 1292.52 958.29 1286.93 981.81 1281.57C1005.34 1276.20 1028.87 1271.17 1052.39 1266.58C1075.92 1261.99 1102.39 1257.45 1122.97 1254.02C1143.56 1250.58 1158.26 1248.50 1175.91 1246.00C1193.55 1243.49 1211.20 1241.12 1228.84 1238.98C1246.49 1236.83 1264.13 1234.97 1281.78 1233.13C1299.42 1231.29 1317.07 1229.58 1334.71 1227.93C1352.36 1226.29 1370.00 1224.73 1387.65 1223.24C1405.29 1221.75 1422.94 1220.34 1440.58 1218.98C1458.23 1217.63 1475.87 1216.34 1493.52 1215.10C1511.16 1213.87 1528.81 1212.69 1546.45 1211.55C1564.10 1210.42 1581.74 1209.34 1599.39 1208.29C1617.03 1207.25 1634.68 1206.21 1652.32 1205.29C1669.97 1204.36 1687.61 1203.52 1705.26 1202.77C1722.90 1202.01 1740.55 1201.39 1758.19 1200.74C1775.84 1200.09 1793.48 1199.48 1811.13 1198.86C1828.77 1198.23 1855.24 1197.31 1864.06 1197.00" fill="none" stroke="#000000" stroke-width="17.3" stroke-linejoin="round"/>
<path d="M396.00 1690.80C401.59 1685.62 418.35 1672.56 429.53 1659.70C440.70 1646.85 453.35 1629.23 463.05 1613.68C472.76 1598.14 471.87 1601.50 487.75 1566.42C503.63 1531.34 534.81 1448.98 558.33 1403.20C581.86 1357.42 605.39 1323.46 628.91 1291.76C652.44 1260.05 675.97 1235.54 699.49 1212.96C723.02 1190.39 746.55 1172.47 770.07 1156.29C793.60 1140.11 817.13 1127.76 840.65 1115.88C864.18 1104.00 887.71 1094.45 911.23 1085.03C934.76 1075.61 958.29 1067.37 981.81 1059.35C1005.34 1051.34 1028.87 1043.91 1052.39 1036.96C1075.92 1030.01 1102.39 1023.09 1122.97 1017.65C1143.56 1012.22 1158.26 1008.35 1175.91 1004.35C1193.55 1000.35 1211.20 996.93 1228.84 993.64C1246.49 990.36 1264.13 987.49 1281.78 984.64C1299.42 981.80 1317.07 979.14 1334.71 976.59C1352.36 974.04 1370.00 971.64 1387.65 969.35C1405.29 967.05 1422.94 964.89 1440.58 962.81C1458.23 960.73 1475.87 958.77 1493.52 956.87C1511.16 954.98 1528.81 953.15 1546.45 951.44C1564.10 949.73 1581.74 948.10 1599.39 946.62C1617.03 945.14 1634.68 943.80 1652.32 942.55C1669.97 941.31 1687.61 940.18 1705.26 939.16C1722.90 938.14 1740.55 937.29 1758.19 936.43C1775.84 935.56 1793.48 934.76 1811.13 933.97C1828.77 933.18 1855.24 932.06 1864.06 931.68" fill="none" stroke="#d9d9d9" stroke-width="16.2" stroke-linejoin="round"/>
<path d="M396.00 1690.80C401.59 1686.70 418.35 1676.37 429.53 1666.20C440.70 1656.03 453.35 1642.10 463.05 1629.80C472.76 1617.50 471.87 1620.68 487.75 1592.41C503.63 1564.13 534.81 1497.38 558.33 1460.15C581.86 1422.91 605.39 1393.91 628.91 1369.01C652.44 1344.11 675.97 1326.90 699.49 1310.73C723.02 1294.56 746.55 1283.85 770.07 1271.98C793.60 1260.10 817.13 1249.09 840.65 1239.48C864.18 1229.87 887.71 1221.85 911.23 1214.32C934.76 1206.79 958.29 1200.35 981.81 1194.29C1005.34 1188.23 1028.87 1182.95 1052.39 1177.98C1075.92 1173.01 1102.39 1168.28 1122.97 1164.45C1143.56 1160.62 1158.26 1158.05 1175.91 1154.99C1193.55 1151.93 1211.20 1148.80 1228.84 1146.11C1246.49 1143.42 1264.13 1141.12 1281.78 1138.85C1299.42 1136.58 1317.07 1134.49 1334.71 1132.47C1352.36 1130.45 1370.00 1128.56 1387.65 1126.75C1405.29 1124.94 1422.94 1123.25 1440.58 1121.62C1458.23 1119.99 1475.87 1118.47 1493.52 1116.99C1511.16 1115.52 1528.81 1114.11 1546.45 1112.76C1564.10 1111.41 1581.74 1110.12 1599.39 1108.87C1617.03 1107.63 1634.68 1106.35 1652.32 1105.29C1669.97 1104.23 1687.61 1103.29 1705.26 1102.50C1722.90 1101.70 1740.55 1101.17 1758.19 1100.53C1775.84 1099.90 1793.48 1099.32 1811.13 1098.70C1828.77 1098.08 1855.24 1097.11 1864.06 1096.79" fill="none" stroke="#808080" stroke-width="17.3" stroke-linejoin="round"/>
<path d="M396.00 1690.80C401.59 1685.61 418.35 1672.52 429.53 1659.65C440.70 1646.77 453.35 1629.12 463.05 1613.54C472.76 1597.97 471.87 1600.26 487.75 1566.19C503.63 1532.13 534.81 1452.88 558.33 1409.14C581.86 1365.39 605.39 1333.84 628.91 1303.73C652.44 1273.61 675.97 1249.99 699.49 1228.46C723.02 1206.92 746.55 1189.60 770.07 1174.51C793.60 1159.42 817.13 1148.59 840.65 1137.92C864.18 1127.26 887.71 1119.15 911.23 1110.53C934.76 1101.92 958.29 1094.17 981.81 1086.23C1005.34 1078.29 1028.87 1069.73 1052.39 1062.91C1075.92 1056.09 1102.39 1049.94 1122.97 1045.32C1143.56 1040.70 1158.26 1038.42 1175.91 1035.21C1193.55 1032.00 1211.20 1029.02 1228.84 1026.04C1246.49 1023.07 1264.13 1020.16 1281.78 1017.35C1299.42 1014.53 1317.07 1011.79 1334.71 1009.16C1352.36 1006.53 1370.00 1003.98 1387.65 1001.58C1405.29 999.17 1422.94 996.89 1440.58 994.73C1458.23 992.56 1475.87 990.52 1493.52 988.57C1511.16 986.61 1528.81 984.70 1546.45 983.01C1564.10 981.32 1581.74 979.85 1599.39 978.43C1617.03 977.00 1634.68 975.65 1652.32 974.46C1669.97 973.27 1687.61 972.21 1705.26 971.27C1722.90 970.34 1740.55 969.62 1758.19 968.86C1775.84 968.10 1793.48 967.40 1811.13 966.70C1828.77 966.00 1855.24 964.99 1864.06 964.65" fill="none" stroke="#808080" stroke-width="17.3" stroke-linejoin="round"/>
<path d="M396.00 1690.80C401.59 1685.68 418.35 1672.78 429.53 1660.08C440.70 1647.39 453.35 1629.98 463.05 1614.62C472.76 1599.26 471.87 1601.14 487.75 1567.93C503.63 1534.71 534.81 1457.96 558.33 1415.34C581.86 1372.72 605.39 1341.06 628.91 1312.21C652.44 1283.35 675.97 1262.13 699.49 1242.22C723.02 1222.31 746.55 1206.83 770.07 1192.75C793.60 1178.68 817.13 1168.00 840.65 1157.77C864.18 1147.53 887.71 1139.59 911.23 1131.35C934.76 1123.10 958.29 1115.74 981.81 1108.30C1005.34 1100.85 1028.87 1093.35 1052.39 1086.68C1075.92 1080.00 1102.39 1073.34 1122.97 1068.25C1143.56 1063.15 1158.26 1059.71 1175.91 1056.11C1193.55 1052.52 1211.20 1049.55 1228.84 1046.66C1246.49 1043.78 1264.13 1041.29 1281.78 1038.81C1299.42 1036.32 1317.07 1034.00 1334.71 1031.78C1352.36 1029.55 1370.00 1027.46 1387.65 1025.45C1405.29 1023.44 1422.94 1021.54 1440.58 1019.72C1458.23 1017.89 1475.87 1016.15 1493.52 1014.48C1511.16 1012.81 1528.81 1011.22 1546.45 1009.69C1564.10 1008.17 1581.74 1006.71 1599.39 1005.31C1617.03 1003.92 1634.68 1002.50 1652.32 1001.31C1669.97 1000.13 1687.61 999.08 1705.26 998.20C1722.90 997.31 1740.55 996.70 1758.19 996.01C1775.84 995.32 1793.48 994.70 1811.13 994.06C1828.77 993.41 1855.24 992.47 1864.06 992.15" fill="none" stroke="#000000" stroke-width="17.3" stroke-linejoin="round"/>
<path d="M396.00 1690.80C401.59 1687.50 418.35 1679.17 429.53 1670.97C440.70 1662.78 453.35 1651.54 463.05 1641.62C472.76 1631.71 471.87 1632.89 487.75 1611.48C503.63 1590.08 534.81 1540.38 558.33 1513.17C581.86 1485.96 605.39 1466.23 628.91 1448.21C652.44 1430.19 675.97 1417.33 699.49 1405.04C723.02 1392.75 746.55 1383.43 770.07 1374.47C793.60 1365.50 817.13 1358.21 840.65 1351.28C864.18 1344.34 887.71 1338.56 911.23 1332.84C934.76 1327.13 958.29 1322.02 981.81 1316.98C1005.34 1311.93 1028.87 1306.99 1052.39 1302.57C1075.92 1298.14 1102.39 1293.64 1122.97 1290.43C1143.56 1287.22 1158.26 1285.50 1175.91 1283.30C1193.55 1281.09 1211.20 1279.06 1228.84 1277.19C1246.49 1275.33 1264.13 1273.72 1281.78 1272.12C1299.42 1270.53 1317.07 1269.04 1334.71 1267.62C1352.36 1266.19 1370.00 1264.84 1387.65 1263.55C1405.29 1262.26 1422.94 1261.04 1440.58 1259.86C1458.23 1258.69 1475.87 1257.57 1493.52 1256.50C1511.16 1255.43 1528.81 1254.41 1546.45 1253.43C1564.10 1252.45 1581.74 1251.51 1599.39 1250.61C1617.03 1249.70 1634.68 1248.80 1652.32 1248.01C1669.97 1247.22 1687.61 1246.50 1705.26 1245.86C1722.90 1245.23 1740.55 1244.73 1758.19 1244.19C1775.84 1243.65 1793.48 1243.15 1811.13 1242.63C1828.77 1242.11 1855.24 1241.34 1864.06 1241.08" fill="none" stroke="#a6a6a6" stroke-width="16.8" stroke-linejoin="round"/>
</g>
<rect x="412.1" y="107.3" width="1151.5" height="285.7" fill="#fff" stroke="#d9d9d9" stroke-width="5.7"/>
<circle cx="465.5" cy="155.0" r="18.60" fill="#fff" stroke="#000000" stroke-width="9.9"/>
<text y="176.9" font-size="80" xml:space="preserve" class="lg" id="lgA"><tspan x="507.7" textLength="185.8" lengthAdjust="spacingAndGlyphs">Batch</tspan><tspan x="695.0" textLength="16.0" lengthAdjust="spacingAndGlyphs"> </tspan><tspan x="712.6" textLength="56.7" lengthAdjust="spacingAndGlyphs">A</tspan></text>
<path d="M849.5 136.1L868.4 155.0L849.5 173.9L830.6 155.0L849.5 136.1" fill="#fff" stroke="#d9d9d9" stroke-width="14.0" stroke-linejoin="round"/>
<text y="176.9" font-size="80" xml:space="preserve" class="lg" id="lgB"><tspan x="890.8" textLength="185.8" lengthAdjust="spacingAndGlyphs">Batch</tspan><tspan x="1078.1" textLength="16.0" lengthAdjust="spacingAndGlyphs"> </tspan><tspan x="1095.1" textLength="45.2" lengthAdjust="spacingAndGlyphs">B</tspan></text>
<rect x="1214.2" y="136.2" width="37.6" height="37.6" fill="#fff" stroke="#808080" stroke-width="12.0" stroke-linejoin="round"/>
<text y="176.9" font-size="80" xml:space="preserve" class="lg" id="lgC"><tspan x="1275.7" textLength="184.7" lengthAdjust="spacingAndGlyphs">Batch</tspan><tspan x="1461.9" textLength="16.0" lengthAdjust="spacingAndGlyphs"> </tspan><tspan x="1479.4" textLength="55.8" lengthAdjust="spacingAndGlyphs">C</tspan></text>
<rect x="447.4" y="231.4" width="37.2" height="37.2" fill="#fff" stroke="#000000" stroke-width="14.0" stroke-linejoin="round"/>
<text y="271.9" font-size="80" xml:space="preserve" class="lg" id="lgD"><tspan x="507.7" textLength="185.8" lengthAdjust="spacingAndGlyphs">Batch</tspan><tspan x="695.0" textLength="16.0" lengthAdjust="spacingAndGlyphs"> </tspan><tspan x="713.7" textLength="55.7" lengthAdjust="spacingAndGlyphs">D</tspan></text>
<path d="M849.5 231.4L868.4 250.3L849.5 269.2L830.6 250.3L849.5 231.4" fill="#000000" stroke="#bfbfbf" stroke-width="14.0" stroke-linejoin="round"/>
<text y="272.2" font-size="80" xml:space="preserve" class="lg" id="lgE"><tspan x="890.8" textLength="185.8" lengthAdjust="spacingAndGlyphs">Batch</tspan><tspan x="1078.1" textLength="16.0" lengthAdjust="spacingAndGlyphs"> </tspan><tspan x="1096.0" textLength="44.1" lengthAdjust="spacingAndGlyphs">E</tspan></text>
<circle cx="1233.0" cy="250.0" r="19.00" fill="#000000" stroke="#808080" stroke-width="12.0"/>
<text y="271.9" font-size="80" xml:space="preserve" class="lg" id="lgF"><tspan x="1275.7" textLength="184.7" lengthAdjust="spacingAndGlyphs">Batch</tspan><tspan x="1461.9" textLength="16.0" lengthAdjust="spacingAndGlyphs"> </tspan><tspan x="1480.8" textLength="38.7" lengthAdjust="spacingAndGlyphs">F</tspan></text>
<path d="M465.4 325.9L484.5 364.1L446.3 364.1L465.4 325.9" fill="#fff" stroke="#808080" stroke-width="14.0" stroke-linejoin="round"/>
<text y="366.9" font-size="80" xml:space="preserve" class="lg" id="lgG"><tspan x="507.7" textLength="185.8" lengthAdjust="spacingAndGlyphs">Batch</tspan><tspan x="695.0" textLength="16.0" lengthAdjust="spacingAndGlyphs"> </tspan><tspan x="711.3" textLength="57.7" lengthAdjust="spacingAndGlyphs">G</tspan></text>
<path d="M849.5 325.9L868.6 364.1L830.4 364.1L849.5 325.9" fill="#fff" stroke="#000000" stroke-width="14.0" stroke-linejoin="round"/>
<text y="366.9" font-size="80" xml:space="preserve" class="lg" id="lgH"><tspan x="890.8" textLength="185.8" lengthAdjust="spacingAndGlyphs">Batch</tspan><tspan x="1078.1" textLength="16.0" lengthAdjust="spacingAndGlyphs"> </tspan><tspan x="1094.6" textLength="63.5" lengthAdjust="spacingAndGlyphs">H</tspan></text>
<circle cx="1233.0" cy="345.2" r="19.15" fill="#fff" stroke="#a6a6a6" stroke-width="9.7"/>
<text y="367.1" font-size="80" xml:space="preserve" class="lg" id="lgI"><tspan x="1275.7" textLength="184.7" lengthAdjust="spacingAndGlyphs">Batch</tspan><tspan x="1461.9" textLength="16.0" lengthAdjust="spacingAndGlyphs"> </tspan><tspan x="1480.7" textLength="24.8" lengthAdjust="spacingAndGlyphs">I</tspan></text>
<text x="320.0" y="1711.4" font-size="79" text-anchor="end" textLength="37.6" lengthAdjust="spacingAndGlyphs" class="yt">0</text>
<text x="320.0" y="1552.2" font-size="79" text-anchor="end" textLength="131.5" lengthAdjust="spacingAndGlyphs" class="yt">0.02</text>
<text x="320.0" y="1393.1" font-size="79" text-anchor="end" textLength="131.5" lengthAdjust="spacingAndGlyphs" class="yt">0.04</text>
<text x="320.0" y="1233.9" font-size="79" text-anchor="end" textLength="131.5" lengthAdjust="spacingAndGlyphs" class="yt">0.06</text>
<text x="320.0" y="1074.8" font-size="79" text-anchor="end" textLength="131.5" lengthAdjust="spacingAndGlyphs" class="yt">0.08</text>
<text x="320.0" y="915.6" font-size="79" text-anchor="end" textLength="93.9" lengthAdjust="spacingAndGlyphs" class="yt">0.1</text>
<text x="320.0" y="756.4" font-size="79" text-anchor="end" textLength="131.5" lengthAdjust="spacingAndGlyphs" class="yt">0.12</text>
<text x="320.0" y="597.3" font-size="79" text-anchor="end" textLength="131.5" lengthAdjust="spacingAndGlyphs" class="yt">0.14</text>
<text x="320.0" y="438.1" font-size="79" text-anchor="end" textLength="131.5" lengthAdjust="spacingAndGlyphs" class="yt">0.16</text>
<text x="320.0" y="279.0" font-size="79" text-anchor="end" textLength="131.5" lengthAdjust="spacingAndGlyphs" class="yt">0.18</text>
<text x="320.0" y="119.8" font-size="79" text-anchor="end" textLength="93.9" lengthAdjust="spacingAndGlyphs" class="yt">0.2</text>
<text x="396.5" y="1823.6" font-size="79" text-anchor="middle" textLength="37.6" lengthAdjust="spacingAndGlyphs" class="xt">0</text>
<text x="749.4" y="1823.6" font-size="79" text-anchor="middle" textLength="112.7" lengthAdjust="spacingAndGlyphs" class="xt">100</text>
<text x="1102.3" y="1823.6" font-size="79" text-anchor="middle" textLength="112.7" lengthAdjust="spacingAndGlyphs" class="xt">200</text>
<text x="1455.2" y="1823.6" font-size="79" text-anchor="middle" textLength="112.7" lengthAdjust="spacingAndGlyphs" class="xt">300</text>
<text x="1808.1" y="1823.6" font-size="79" text-anchor="middle" textLength="112.7" lengthAdjust="spacingAndGlyphs" class="xt">400</text>
<text x="1100" y="1903.3" font-size="79" font-weight="bold" text-anchor="middle" id="xtitle">Time (min)</text>
<text transform="translate(143.7 897) rotate(-90)" font-size="79" font-weight="bold" text-anchor="middle" id="ytitle">Mass (g)</text>
</svg>
</body></html>
